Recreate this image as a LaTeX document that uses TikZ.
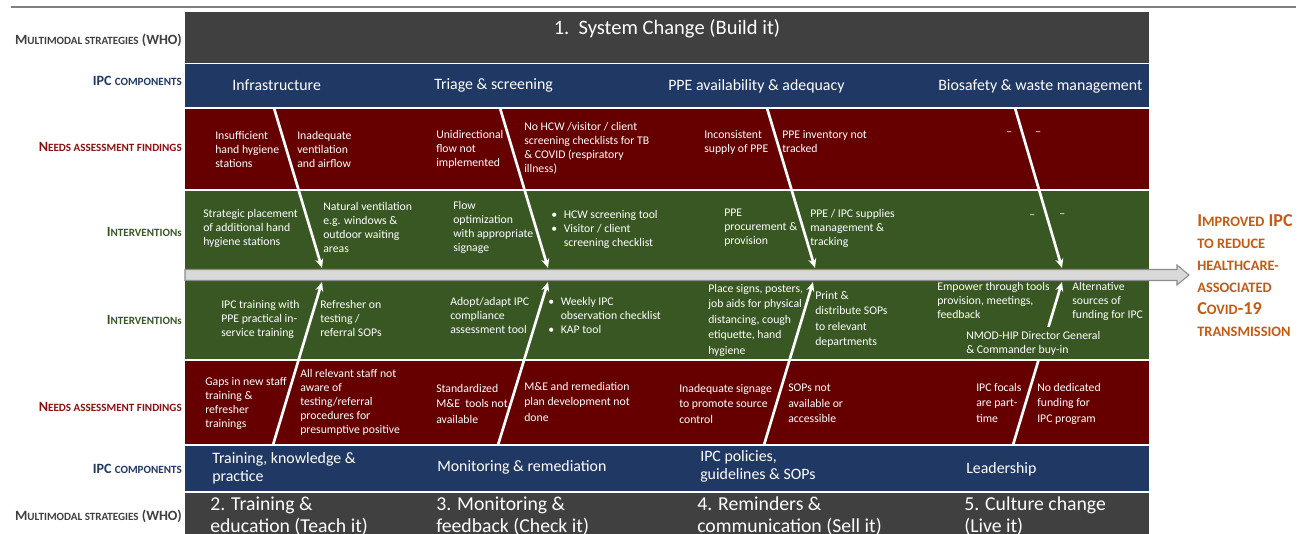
\documentclass[tikz,border=0pt]{standalone}
\usepackage{fontspec}
\setmainfont{Carlito}
\usetikzlibrary{arrows.meta}
\definecolor{Slate}{HTML}{404040}
\definecolor{Navy}{HTML}{1F3864}
\definecolor{Maroon}{HTML}{660000}
\definecolor{Forest}{HTML}{385723}
\definecolor{Rail}{HTML}{D9D9D9}
\definecolor{RailEdge}{HTML}{8C8C8C}
\definecolor{Rust}{HTML}{C55A11}
\definecolor{LabelRed}{HTML}{8B1010}
\newcommand{\lc}[1]{{\fontsize{8.3}{9}\selectfont #1}}
\newcommand{\lcr}[1]{{\fontsize{10.8}{11}\selectfont #1}}

\begin{document}
\begin{tikzpicture}[x=0.75pt,y=-0.75pt,
  rowlabel/.style={anchor=east,inner sep=0pt,font=\bfseries\fontsize{10.6}{12}\selectfont},
  cell/.style={anchor=north west,inner sep=0pt,align=left,text=white,font=\fontsize{8.8}{10.5}\selectfont},
  comp/.style={anchor=north west,inner sep=0pt,align=left,text=white,font=\fontsize{11.9}{13.5}\selectfont},
  strat/.style={anchor=north west,inner sep=0pt,align=left,text=white,font=\fontsize{14.8}{16.5}\selectfont},
  fish/.style={draw=white,line width=2pt,-{Stealth[length=7pt,width=6pt]}}]
\useasboundingbox (0,0) rectangle (1303,534);
\clip (0,0) rectangle (1303,534);
\draw[gray,line width=1.5pt] (11,7) -- (1296,7);
% row bands, top to bottom
\fill[Slate] (185,12) rectangle (1149,63);
\fill[Navy] (185,64.5) rectangle (1149,107);
\fill[Maroon] (185,109) rectangle (1149,189.5);
\fill[Forest] (185,191.5) rectangle (1149,270);
\fill[Forest] (185,280) rectangle (1149,359.5);
\fill[Maroon] (185,361.5) rectangle (1149,444);
\fill[Navy] (185,446) rectangle (1149,491);
\fill[Slate] (185,493) rectangle (1149,540);
% spine
\filldraw[fill=Rail,draw=RailEdge,line width=0.8pt] (185,269.5) -- (1177,269.5) -- (1177,265) -- (1189,275)
  -- (1177,285) -- (1177,280.5) -- (185,280.5) -- cycle;
% row labels
\node[rowlabel,text=Slate] (ms1) at (182,40) {M\lc{ULTIMODAL STRATEGIES} (WHO)};
\node[rowlabel,text=Navy] (ic1) at (182,81) {IPC \lc{COMPONENTS}};
\node[rowlabel,text=LabelRed] (na1) at (182,147) {N\lc{EEDS ASSESSMENT FINDINGS}};
\node[rowlabel,text=Forest] (iv1) at (182,232) {I\lc{NTERVENTION}{\fontsize{8.3}{9}\selectfont s}};
\node[rowlabel,text=Forest] (iv2) at (182,320) {I\lc{NTERVENTION}{\fontsize{8.3}{9}\selectfont s}};
\node[rowlabel,text=LabelRed] (na2) at (182,407) {N\lc{EEDS ASSESSMENT FINDINGS}};
\node[rowlabel,text=Navy] (ic2) at (182,469) {IPC \lc{COMPONENTS}};
\node[rowlabel,text=Slate] (ms2) at (182,516) {M\lc{ULTIMODAL STRATEGIES} (WHO)};
% strategy 1 and components
\node[text=white,font=\fontsize{15.4}{18}\selectfont,inner sep=0pt] (sys) at (667,29) {1.\ \ System Change (Build it)};
\node[comp,anchor=west] (infra) at (232,85) {Infrastructure};
\node[comp,anchor=west] (triage) at (434,85) {Triage \& screening};
\node[comp,anchor=west] (ppe) at (668,86) {PPE availability \& adequacy};
\node[comp,anchor=west] (bio) at (938,86) {Biosafety \& waste management};
% findings, upper
\node[cell] (f1) at (215,131) {Insufficient\\hand hygiene\\stations};
\node[cell] (f2) at (297,131) {Inadequate\\ventilation\\and airflow};
\node[cell] (f3) at (436,130) {Unidirectional\\flow not\\implemented};
\node[cell] (f4) at (524,122) {No HCW /visitor / client\\screening checklists for TB\\\& COVID (respiratory\\illness)};
\node[cell] (f5) at (704,130) {Inconsistent\\supply of PPE};
\node[cell] (f6) at (782,130) {PPE inventory not\\tracked};
\node[cell] (f7) at (1006,132) {\textendash};
\node[cell] (f8) at (1035,132) {\textendash};
% interventions, upper
\node[cell] (i1) at (203,209) {Strategic placement\\of additional hand\\hygiene stations};
\node[cell] (i2) at (323,202) {Natural ventilation\\e.g. windows \&\\outdoor waiting\\areas};
\node[cell] (i3) at (453,201) {Flow\\optimization\\with appropriate\\signage};
\node[cell] (i4) at (551,210) {\textbullet\hspace{5pt}HCW screening tool\\\textbullet\hspace{5pt}Visitor / client\\\hphantom{\textbullet\hspace{5pt}}screening checklist};
\node[cell] (i5) at (724,209) {PPE\\procurement \&\\provision};
\node[cell] (i6) at (810,209) {PPE / IPC supplies\\management \&\\tracking};
\node[cell] (i7) at (1029,215) {\textendash};
\node[cell] (i8) at (1059,214) {\textendash};
% interventions, lower
\node[cell] (j1) at (221,300) {IPC training with\\PPE practical in-\\service training};
\node[cell] (j2) at (320,300) {Refresher on\\testing /\\referral SOPs};
\node[cell] (j3) at (450,297) {Adopt/adapt IPC\\compliance\\assessment tool};
\node[cell] (j4) at (548,297) {\textbullet\hspace{5pt}Weekly IPC\\\hphantom{\textbullet\hspace{5pt}}observation checklist\\\textbullet\hspace{5pt}KAP tool};
\node[cell,font=\fontsize{8.8}{11.6}\selectfont] (j5) at (708,284) {Place signs, posters,\\job aids for physical\\distancing, cough\\etiquette, hand\\hygiene};
\node[cell,font=\fontsize{8.8}{11.6}\selectfont] (j6) at (815,291) {Print \&\\distribute SOPs\\to relevant\\departments};
\node[cell] (j7) at (937,282) {Empower through tools\\provision, meetings,\\feedback};
\node[cell] (j8) at (1072,282) {Alternative\\sources of\\funding for IPC};
% findings, lower
\node[cell] (g1) at (205,377) {Gaps in new staff\\training \&\\refresher\\trainings};
\node[cell] (g2) at (300,369) {All relevant staff not\\aware of\\testing/referral\\procedures for\\presumptive positive};
\node[cell,font=\fontsize{8.8}{11.6}\selectfont] (g3) at (436,384) {Standardized\\M\&E\ \ tools not\\available};
\node[cell,font=\fontsize{8.8}{11.6}\selectfont] (g4) at (524,382) {M\&E and remediation\\plan development not\\done};
\node[cell,font=\fontsize{8.8}{11.6}\selectfont] (g5) at (679,384) {Inadequate signage\\to promote source\\control};
\node[cell,font=\fontsize{8.8}{11.6}\selectfont] (g6) at (788,384) {SOPs not\\available or\\accessible};
\node[cell,font=\fontsize{8.8}{11.6}\selectfont] (g7) at (976,383) {IPC focals\\are part-\\time};
\node[cell,font=\fontsize{8.8}{11.6}\selectfont] (g8) at (1037,383) {No dedicated\\funding for\\IPC program};
% components and strategies, lower
\node[comp] (train) at (212,452) {Training, knowledge \&\\practice};
\node[comp,anchor=west] (monit) at (437,467) {Monitoring \& remediation};
\node[comp] (policy) at (700,450) {IPC policies,\\guidelines \& SOPs};
\node[comp,anchor=west] (lead) at (966,469) {Leadership};
\node[strat] (s2) at (210,497) {2. Training \&\\education (Teach it)};
\node[strat] (s3) at (436,497) {3. Monitoring \&\\feedback (Check it)};
\node[strat] (s4) at (697,497) {4. Reminders \&\\communication (Sell it)};
\node[strat] (s5) at (964,497) {5. Culture change\\(Live it)};
% bones onto the spine
\coordinate (ta) at (274,108); \coordinate (tb) at (500,108);
\coordinate (tc) at (767,108); \coordinate (td) at (1015,108);
\coordinate (ha) at (322,268); \coordinate (hb) at (548,268);
\coordinate (hc) at (815,268); \coordinate (hd) at (1062,268);
\coordinate (ba) at (273,445); \coordinate (bb) at (498,445);
\coordinate (bc) at (764,445); \coordinate (bd) at (1013,445);
\coordinate (ka) at (322,282); \coordinate (kb) at (548,282);
\coordinate (kc) at (813,282); \coordinate (kd) at (1062,282);
\foreach \s/\e in {ta/ha,tb/hb,tc/hc,td/hd,ba/ka,bb/kb,bc/kc,bd/kd}
  \draw[fish] (\s) -- (\e);
\node[cell,fill=Forest,inner sep=3pt] (nmod) at (962,327) {NMOD-HIP Director General\\\& Commander buy-in};
% outcome
\node[anchor=north west,inner sep=0pt,align=left,text=Rust,font=\bfseries\fontsize{13.6}{16.5}\selectfont] (goal) at (1197,214)
  {I\lcr{MPROVED} IPC\\\lcr{TO REDUCE}\\\lcr{HEALTHCARE-}\\\lcr{ASSOCIATED}\\C\lcr{OVID}-19\\\lcr{TRANSMISSION}};
\end{tikzpicture}
\end{document}
